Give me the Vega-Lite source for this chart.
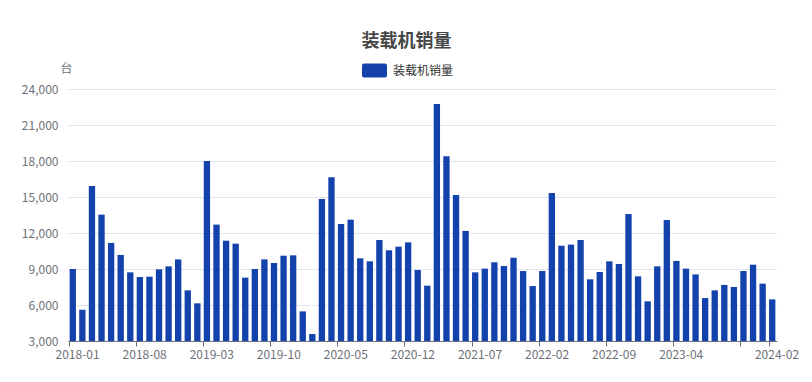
{
  "$schema": "https://vega.github.io/schema/vega-lite/v6.json",
  "width": 709,
  "height": 252,
  "autosize": {"type": "none"},
  "padding": {"left": 68, "top": 89, "right": 35, "bottom": 41},
  "background": "white",
  "config": {"view": {"stroke": null}, "font": "Noto Sans CJK SC"},
  "title": {"text": "装载机销量", "fontSize": 18, "fontWeight": "bold", "color": "#464646", "anchor": "middle", "dx": -16, "offset": 7, "font": "Noto Sans CJK SC"},
  "data": {"values": [
    {"month": "2018-01", "sales": 9000},
    {"month": "2018-02", "sales": 5610},
    {"month": "2018-03", "sales": 15920},
    {"month": "2018-04", "sales": 13530},
    {"month": "2018-05", "sales": 11170},
    {"month": "2018-06", "sales": 10170},
    {"month": "2018-07", "sales": 8720},
    {"month": "2018-08", "sales": 8330},
    {"month": "2018-09", "sales": 8360},
    {"month": "2018-10", "sales": 8970},
    {"month": "2018-11", "sales": 9220},
    {"month": "2018-12", "sales": 9800},
    {"month": "2019-01", "sales": 7220},
    {"month": "2019-02", "sales": 6140},
    {"month": "2019-03", "sales": 18000},
    {"month": "2019-04", "sales": 12700},
    {"month": "2019-05", "sales": 11360},
    {"month": "2019-06", "sales": 11110},
    {"month": "2019-07", "sales": 8280},
    {"month": "2019-08", "sales": 9000},
    {"month": "2019-09", "sales": 9800},
    {"month": "2019-10", "sales": 9500},
    {"month": "2019-11", "sales": 10110},
    {"month": "2019-12", "sales": 10140},
    {"month": "2020-01", "sales": 5470},
    {"month": "2020-02", "sales": 3580},
    {"month": "2020-03", "sales": 14830},
    {"month": "2020-04", "sales": 16640},
    {"month": "2020-05", "sales": 12750},
    {"month": "2020-06", "sales": 13110},
    {"month": "2020-07", "sales": 9890},
    {"month": "2020-08", "sales": 9640},
    {"month": "2020-09", "sales": 11420},
    {"month": "2020-10", "sales": 10560},
    {"month": "2020-11", "sales": 10860},
    {"month": "2020-12", "sales": 11220},
    {"month": "2021-01", "sales": 8920},
    {"month": "2021-02", "sales": 7610},
    {"month": "2021-03", "sales": 22750},
    {"month": "2021-04", "sales": 18390},
    {"month": "2021-05", "sales": 15170},
    {"month": "2021-06", "sales": 12170},
    {"month": "2021-07", "sales": 8720},
    {"month": "2021-08", "sales": 9030},
    {"month": "2021-09", "sales": 9560},
    {"month": "2021-10", "sales": 9250},
    {"month": "2021-11", "sales": 9940},
    {"month": "2021-12", "sales": 8830},
    {"month": "2022-01", "sales": 7580},
    {"month": "2022-02", "sales": 8830},
    {"month": "2022-03", "sales": 15330},
    {"month": "2022-04", "sales": 10940},
    {"month": "2022-05", "sales": 11030},
    {"month": "2022-06", "sales": 11420},
    {"month": "2022-07", "sales": 8140},
    {"month": "2022-08", "sales": 8750},
    {"month": "2022-09", "sales": 9640},
    {"month": "2022-10", "sales": 9420},
    {"month": "2022-11", "sales": 13580},
    {"month": "2022-12", "sales": 8390},
    {"month": "2023-01", "sales": 6310},
    {"month": "2023-02", "sales": 9220},
    {"month": "2023-03", "sales": 13080},
    {"month": "2023-04", "sales": 9670},
    {"month": "2023-05", "sales": 9030},
    {"month": "2023-06", "sales": 8550},
    {"month": "2023-07", "sales": 6580},
    {"month": "2023-08", "sales": 7220},
    {"month": "2023-09", "sales": 7670},
    {"month": "2023-10", "sales": 7500},
    {"month": "2023-11", "sales": 8830},
    {"month": "2023-12", "sales": 9360},
    {"month": "2024-01", "sales": 7780},
    {"month": "2024-02", "sales": 6470}
  ]},
  "mark": {"type": "bar"},
  "encoding": {
    "x": {
      "field": "month", "type": "ordinal", "sort": null,
      "scale": {"paddingInner": 0.34, "paddingOuter": 0.17},
      "axis": {
        "title": null, "bandPosition": 0,
        "values": ["2018-01", "2018-08", "2019-03", "2019-10", "2020-05", "2020-12", "2021-07", "2022-02", "2022-09", "2023-04", "2023-11", "2024-02"],
        "labelExpr": "datum.value == '2023-11' ? '' : datum.value",
        "labelAngle": 0, "labelOffset": 4.8, "labelPadding": 3, "labelOverlap": false,
        "tickSize": 5, "tickColor": "#6E7079", "domainColor": "#6E7079",
        "labelColor": "#6E7079", "labelFontSize": 12, "labelFont": "Noto Sans CJK SC", "grid": false
      }
    },
    "y": {
      "field": "sales", "type": "quantitative",
      "scale": {"domain": [3000, 24000], "zero": false, "nice": false},
      "axis": {
        "title": "台", "titleAngle": 0, "titleX": -2, "titleY": -21, "titleAlign": "center", "titleBaseline": "middle",
        "titleFontSize": 12, "titleFontWeight": "normal", "titleColor": "#6E7079", "titleFont": "Noto Sans CJK SC",
        "values": [3000, 6000, 9000, 12000, 15000, 18000, 21000, 24000],
        "format": ",.0f", "domain": false, "ticks": false, "labelPadding": 10,
        "labelColor": "#6E7079", "labelFontSize": 12, "labelFont": "Noto Sans CJK SC",
        "gridColor": "#E0E6F1"
      }
    },
    "y2": {"datum": 3000},
    "color": {
      "datum": "装载机销量", "type": "nominal",
      "scale": {"range": ["#1342AD"]},
      "legend": {
        "title": null, "orient": "none", "legendX": 294, "legendY": -31,
        "symbolType": "M-0.84,-0.56 h1.68 a0.16,0.16 0 0 1 0.16,0.16 v0.8 a0.16,0.16 0 0 1 -0.16,0.16 h-1.68 a0.16,0.16 0 0 1 -0.16,-0.16 v-0.8 a0.16,0.16 0 0 1 0.16,-0.16 z",
        "symbolSize": 625, "symbolStrokeWidth": 0, "symbolOpacity": 1,
        "labelFontSize": 12, "labelColor": "#333333", "labelFont": "Noto Sans CJK SC", "labelOffset": 6
      }
    }
  }
}
